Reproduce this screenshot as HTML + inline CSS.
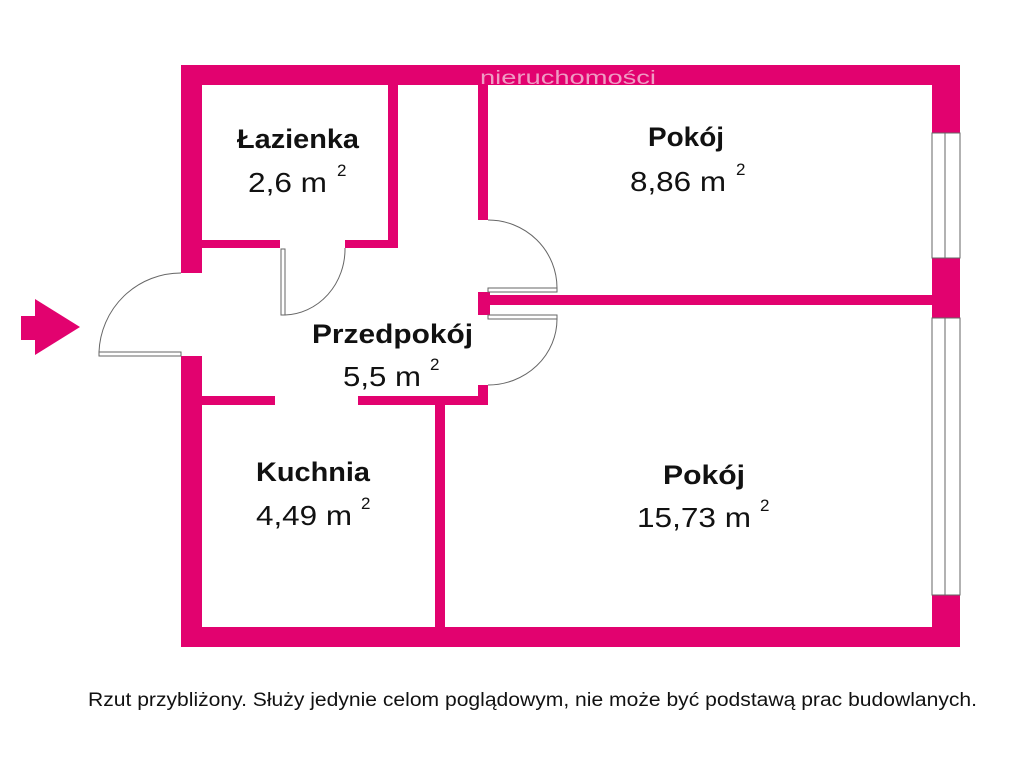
<!DOCTYPE html>
<html><head><meta charset="utf-8"><style>
body{margin:0;background:#fff;width:1024px;height:768px;overflow:hidden}
svg{display:block}
text{font-family:"Liberation Sans","DejaVu Sans",sans-serif;fill:#111}
.b{font-weight:bold;font-size:27px}
.n{font-size:28px}
.s{font-size:17px}
</style></head><body>
<svg width="1024" height="768" viewBox="0 0 1024 768">
<g fill="#E2026F">
<rect x="181" y="65" width="779" height="20"/>
<rect x="181" y="627" width="779" height="20"/>
<rect x="181" y="65" width="21" height="208"/>
<rect x="181" y="356" width="21" height="291"/>
<rect x="932" y="65" width="28" height="68"/>
<rect x="932" y="258" width="28" height="60"/>
<rect x="932" y="595" width="28" height="52"/>
<rect x="388" y="85" width="10" height="163"/>
<rect x="202" y="240" width="78" height="8"/>
<rect x="345" y="240" width="53" height="8"/>
<rect x="478" y="85" width="10" height="135"/>
<rect x="478" y="292" width="12" height="23"/>
<rect x="478" y="385" width="10" height="20"/>
<rect x="488" y="295" width="444" height="10"/>
<rect x="202" y="396" width="73" height="9"/>
<rect x="358" y="396" width="130" height="9"/>
<rect x="435" y="405" width="10" height="222"/>
<rect x="21" y="316" width="15" height="24"/>
<polygon points="35,299 80,327 35,355"/>
</g>
<g fill="none" stroke="#666" stroke-width="1">
<rect x="932" y="133" width="28" height="125"/>
<line x1="945" y1="133" x2="945" y2="258"/>
<rect x="932" y="318" width="28" height="277"/>
<line x1="945" y1="318" x2="945" y2="595"/>
<rect x="99" y="352" width="82" height="4"/>
<path d="M99,352 A82,82 0 0 1 181,273"/>
<rect x="281" y="249" width="4" height="66"/>
<path d="M285,315 A62,66 0 0 0 345,248"/>
<rect x="488" y="288" width="69" height="4"/>
<path d="M488,220 A69,68 0 0 1 557,288"/>
<rect x="488" y="315" width="69" height="4"/>
<path d="M557,319 A69,66 0 0 1 488,385"/>
</g>
<text x="480" y="84" textLength="176" lengthAdjust="spacingAndGlyphs" style="font-size:19px;fill:#ef9cc4">nieruchomości</text>
<text class="b" x="237" y="148" textLength="122" lengthAdjust="spacingAndGlyphs">Łazienka</text>
<text class="n" x="248" y="192" textLength="79" lengthAdjust="spacingAndGlyphs">2,6 m</text><text class="s" x="337" y="176">2</text>
<text class="b" x="648" y="146" textLength="76" lengthAdjust="spacingAndGlyphs">Pokój</text>
<text class="n" x="630" y="191" textLength="96" lengthAdjust="spacingAndGlyphs">8,86 m</text><text class="s" x="736" y="175">2</text>
<text class="b" x="312" y="343" textLength="161" lengthAdjust="spacingAndGlyphs">Przedpokój</text>
<text class="n" x="343" y="386" textLength="78" lengthAdjust="spacingAndGlyphs">5,5 m</text><text class="s" x="430" y="370">2</text>
<text class="b" x="256" y="481" textLength="114" lengthAdjust="spacingAndGlyphs">Kuchnia</text>
<text class="n" x="256" y="525" textLength="96" lengthAdjust="spacingAndGlyphs">4,49 m</text><text class="s" x="361" y="509">2</text>
<text class="b" x="663" y="484" textLength="82" lengthAdjust="spacingAndGlyphs">Pokój</text>
<text class="n" x="637" y="527" textLength="114" lengthAdjust="spacingAndGlyphs">15,73 m</text><text class="s" x="760" y="511">2</text>
<text x="88" y="706" textLength="889" lengthAdjust="spacingAndGlyphs" style="font-size:19px">Rzut przybliżony. Służy jedynie celom poglądowym, nie może być podstawą prac budowlanych.</text>
</svg>
</body></html>
